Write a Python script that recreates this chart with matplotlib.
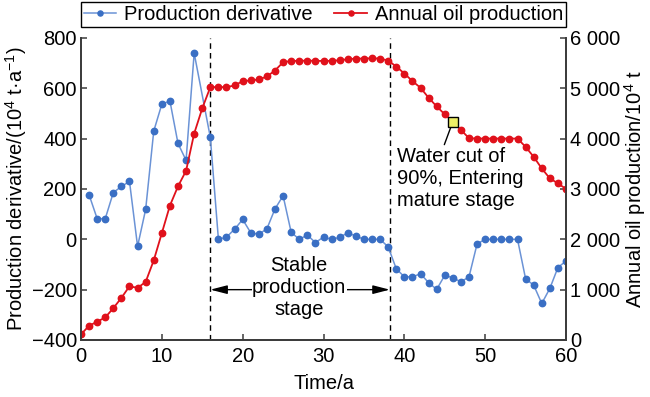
import matplotlib
matplotlib.use("Agg")
import matplotlib.pyplot as plt
from matplotlib.ticker import FuncFormatter

plt.rcParams["font.family"] = ["Liberation Sans", "DejaVu Sans"]
plt.rcParams["mathtext.fontset"] = "custom"
plt.rcParams["mathtext.rm"] = "Liberation Sans"
plt.rcParams["mathtext.it"] = "Liberation Sans:italic"
plt.rcParams["font.size"] = 14.5

# production derivative (10^4 t/a per year), no value read at year 15
deriv_years = list(range(1, 15)) + list(range(16, 61))
deriv_vals = [177, 82, 82, 186, 210, 230, -28, 119, 430, 537, 550, 381, 314, 740,
              405, 0, 9, 40, 79, 26, 20, 42, 121, 173, 28, 0, 17, -13, 9, 0, 8, 26,
              13, 0, 0, 0, -30, -117, -149, -149, -137, -172, -199, -143, -153, -169,
              -149, -18, 0, 0, 0, 0, 0, -157, -182, -255, -195, -112, -86]

# annual oil production (10^4 t)
oil_years = list(range(0, 61))
oil_vals = [112, 283, 363, 448, 633, 837, 1068, 1035, 1154, 1582, 2123, 2670, 3053,
            3362, 4101, 4602, 5024, 5024, 5024, 5057, 5143, 5156, 5176, 5235, 5354,
            5518, 5545, 5545, 5551, 5545, 5545, 5545, 5558, 5578, 5591, 5591, 5597,
            5591, 5551, 5433, 5294, 5143, 5011, 4813, 4641, 4483, 4338, 4173, 4009,
            4002, 4002, 4002, 4002, 4002, 4002, 3837, 3639, 3408, 3210, 3112, 3000]

stage_bounds = [16, 38.2]
mature_year = 46

blue = "#3a6fc4"
red = "#e0111b"
spine_c = "#3c3c3c"

fig = plt.figure(figsize=(6.5, 3.97), dpi=100)
ax = fig.add_axes([0.1246, 0.1436, 0.7462, 0.7607])
ax2 = ax.twinx()

l1, = ax.plot(deriv_years, deriv_vals, color="#6b93d6", lw=1.1, marker="o",
              ms=4.6, mfc=blue, mec=blue, label="Production derivative")
l2, = ax2.plot(oil_years, oil_vals, color=red, lw=1.3, marker="o",
               ms=4.6, mfc=red, mec=red, label="Annual oil production")

# water cut 90% point
mature_val = oil_vals[oil_years.index(mature_year)]
ax2.plot([mature_year], [mature_val], marker="s", ms=7, mfc="#eeee66",
         mec="black", mew=1.0, ls="none", zorder=5)
ax2.annotate("Water cut of\n90%, Entering\nmature stage",
             xy=(mature_year, mature_val), xytext=(39.1, 3200),
             ha="left", va="center", linespacing=1.2,
             arrowprops=dict(arrowstyle="-", color="black", lw=1.0,
                             shrinkA=0, shrinkB=4, relpos=(0.36, 0.97)))

for xb in stage_bounds:
    ax.axvline(xb, color="black", ls=(0, (4, 3)), lw=1.0, zorder=1)

ax.annotate("", xy=(stage_bounds[0], -200), xytext=(stage_bounds[1], -200),
            arrowprops=dict(arrowstyle="<|-|>,head_length=0.7,head_width=0.18",
                            color="black", lw=1.0, shrinkA=0, shrinkB=0))
ax.text(sum(stage_bounds) / 2 - 0.1, -192, "Stable\nproduction\nstage",
        ha="center", va="center", linespacing=1.2,
        bbox=dict(facecolor="white", edgecolor="none", pad=0.5))

ax.set_xlim(0, 60)
ax.set_ylim(-400, 800)
ax2.set_ylim(0, 6000)
ax.set_xticks(range(0, 61, 10))
ax.set_yticks(range(-400, 801, 200))
ax2.set_yticks(range(0, 6001, 1000))
ax.yaxis.set_major_formatter(FuncFormatter(lambda v, p: f"{int(v)}".replace("-", "\u2212")))
ax2.yaxis.set_major_formatter(FuncFormatter(lambda v, p: f"{int(v):,}".replace(",", " ")))

for a in (ax, ax2):
    a.spines["top"].set_visible(False)
    for s in ("left", "right", "bottom"):
        a.spines[s].set_color(spine_c)
        a.spines[s].set_linewidth(1.3)
    a.tick_params(direction="in", length=4, width=1.1, color=spine_c, pad=3)
ax.tick_params(axis="x", pad=5)

ax.set_xlabel("Time/a", labelpad=6)
ax.set_ylabel("Production derivative/(10$^{4}$ t\u00b7a$^{-1}$)", labelpad=2)
ax2.set_ylabel("Annual oil production/10$^{4}$ t", rotation=90, labelpad=1)

leg = ax.legend(handles=[l1, l2], loc="lower left", ncol=2, mode="expand",
                bbox_to_anchor=(0, 1.036, 1, 0.086), borderaxespad=0,
                fancybox=False, edgecolor="black", framealpha=1,
                handlelength=1.6, handletextpad=0.4, columnspacing=1.0,
                borderpad=0.15, markerscale=0.8)
leg.get_frame().set_linewidth(1.0)

fig.savefig("out.png", dpi=100)
